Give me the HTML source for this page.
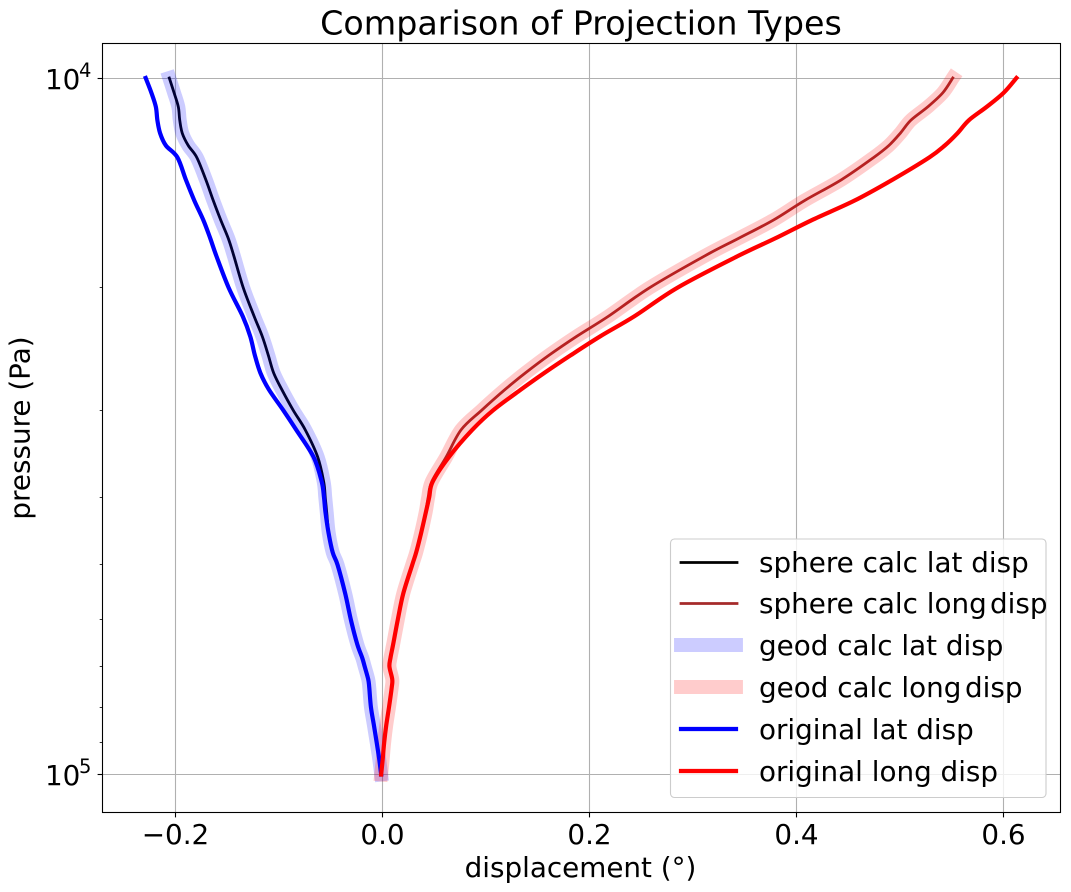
<!DOCTYPE html>
<html lang="en">
<head>
<meta charset="utf-8">
<title>Comparison of Projection Types</title>
<style>
html,body{margin:0;padding:0;background:#fff;}
svg{display:block;}
text{font-family:"DejaVu Sans","Liberation Sans",sans-serif;fill:#000;}
</style>
</head>
<body>
<svg id="chart" xmlns="http://www.w3.org/2000/svg" width="1071" height="892" viewBox="0 0 1071 892">
  <g id="grid"></g>
  <g id="series"></g>
  <rect x="102.5" y="43.5" width="958" height="769" fill="none" stroke="#000" stroke-width="1.1"/>
  <g id="ticks"></g>
  <text x="581" y="34.3" font-size="33.3" text-anchor="middle">Comparison of Projection Types</text>
  <text x="580.5" y="877" font-size="27.8" text-anchor="middle">displacement (°)</text>
  <text transform="translate(29.5,428) rotate(-90)" font-size="27.8" text-anchor="middle">pressure (Pa)</text>
  <g>
    <rect x="670.5" y="539" width="375.5" height="258.5" rx="4" ry="4" fill="#fff" fill-opacity="0.8" stroke="#ccc" stroke-width="1.1"/>
    <g>
      <line x1="681" x2="737" y1="562.5" y2="562.5" stroke="#000" stroke-width="2.8" stroke-linecap="square"/>
      <text x="759" y="572" font-size="27.8">sphere calc lat disp</text>
    </g>
    <g>
      <line x1="681" x2="737" y1="603.5" y2="603.5" stroke="#a52a2a" stroke-width="2.8" stroke-linecap="square"/>
      <text x="759" y="613" font-size="27.8">sphere calc long<tspan x="990">disp</tspan></text>
    </g>
    <g>
      <line x1="681" x2="736" y1="645" y2="645" stroke="#00f" stroke-opacity="0.2" stroke-width="13.9" stroke-linecap="square"/>
      <text x="759" y="655" font-size="27.8">geod calc lat disp</text>
    </g>
    <g>
      <line x1="681" x2="736" y1="687" y2="687" stroke="#f00" stroke-opacity="0.2" stroke-width="13.9" stroke-linecap="square"/>
      <text x="759" y="697" font-size="27.8">geod calc long<tspan x="965">disp</tspan></text>
    </g>
    <g>
      <line x1="681" x2="736" y1="729" y2="729" stroke="#00f" stroke-width="4.2" stroke-linecap="square"/>
      <text x="759" y="739" font-size="27.8">original lat disp</text>
    </g>
    <g>
      <line x1="681" x2="736" y1="771" y2="771" stroke="#f00" stroke-width="4.2" stroke-linecap="square"/>
      <text x="759" y="781" font-size="27.8">original long disp</text>
    </g>
  </g>
</svg>
<script>
const xTickValues = [-0.2, 0, 0.2, 0.4, 0.6];
const xTickLabels = ['\u22120.2', '0.0', '0.2', '0.4', '0.6'];
const yMajorTicks = [10000, 100000];
const yMajorExponents = ['4', '5'];
const yMinorTicks = [20000, 30000, 40000, 50000, 60000, 70000, 80000, 90000];

const pressure = [10000,10500,11000,11500,12000,12500,13000,14000,15000,16000,17000,18000,20000,22000,23500,25000,26500,28000,30000,32000,35000,38000,40000,42000,45000,48000,50000,55000,60000,65000,68000,70000,73000,75000,80000,85000,90000,95000,100000];

const sphereLat = [-0.2056,-0.2010,-0.1969,-0.1955,-0.1931,-0.1873,-0.1791,-0.1703,-0.1631,-0.1559,-0.1486,-0.1433,-0.1342,-0.1236,-0.1158,-0.1100,-0.1049,-0.0970,-0.0859,-0.0743,-0.0623,-0.0565,-0.0550,-0.0536,-0.0516,-0.0478,-0.0431,-0.0357,-0.0302,-0.0241,-0.0193,-0.0169,-0.0135,-0.0125,-0.0109,-0.0080,-0.0053,-0.0029,-0.0010];
const geodLat = [-0.2056,-0.2010,-0.1969,-0.1955,-0.1931,-0.1873,-0.1791,-0.1703,-0.1631,-0.1559,-0.1486,-0.1433,-0.1342,-0.1236,-0.1158,-0.1100,-0.1049,-0.0970,-0.0859,-0.0743,-0.0623,-0.0565,-0.0550,-0.0536,-0.0516,-0.0478,-0.0431,-0.0357,-0.0302,-0.0241,-0.0193,-0.0169,-0.0135,-0.0125,-0.0109,-0.0080,-0.0053,-0.0029,-0.0010];
const originalLat = [-0.2284,-0.2229,-0.2186,-0.2171,-0.2145,-0.2089,-0.1978,-0.1896,-0.1814,-0.1727,-0.1660,-0.1602,-0.1483,-0.1346,-0.1274,-0.1230,-0.1177,-0.1095,-0.0955,-0.0830,-0.0663,-0.0584,-0.0562,-0.0548,-0.0518,-0.0478,-0.0431,-0.0357,-0.0302,-0.0241,-0.0193,-0.0169,-0.0135,-0.0125,-0.0109,-0.0080,-0.0053,-0.0029,-0.0010];
const sphereLong = [0.5510,0.5414,0.5269,0.5105,0.5004,0.4893,0.4748,0.4434,0.4077,0.3776,0.3439,0.3117,0.2583,0.2181,0.1877,0.1612,0.1385,0.1187,0.0960,0.0762,0.0618,0.0478,0.0444,0.0420,0.0376,0.0328,0.0290,0.0203,0.0150,0.0106,0.0080,0.0070,0.0097,0.0092,0.0066,0.0039,0.0019,0.0005,-0.0010];
const geodLong = [0.5510,0.5414,0.5269,0.5105,0.5004,0.4893,0.4748,0.4434,0.4077,0.3776,0.3439,0.3117,0.2583,0.2181,0.1877,0.1612,0.1385,0.1187,0.0960,0.0762,0.0618,0.0478,0.0444,0.0420,0.0376,0.0328,0.0290,0.0203,0.0150,0.0106,0.0080,0.0070,0.0097,0.0092,0.0066,0.0039,0.0019,0.0005,-0.0010];
const originalLong = [0.6125,0.6002,0.5838,0.5665,0.5556,0.5433,0.5284,0.4927,0.4560,0.4148,0.3792,0.3440,0.2852,0.2432,0.2104,0.1822,0.1568,0.1341,0.1071,0.0870,0.0645,0.0487,0.0454,0.0422,0.0376,0.0328,0.0290,0.0203,0.0150,0.0106,0.0080,0.0070,0.0097,0.0092,0.0066,0.0039,0.0019,0.0005,-0.0010];

const NS = 'http://www.w3.org/2000/svg';
const xScale = v => 382.2 + v * 1035.5;
const yScale = p => 78 + 696.5 * (Math.log10(p) - 4);
const snap = v => Math.round(v - 0.5) + 0.5;
const AXIS_LEFT = 102.5, AXIS_RIGHT = 1060.5, AXIS_TOP = 43.5, AXIS_BOTTOM = 812.5;

function makeLine(parent, x1, y1, x2, y2, stroke, width) {
  const el = document.createElementNS(NS, 'line');
  el.setAttribute('x1', x1);
  el.setAttribute('y1', y1);
  el.setAttribute('x2', x2);
  el.setAttribute('y2', y2);
  el.setAttribute('stroke', stroke);
  el.setAttribute('stroke-width', width);
  parent.appendChild(el);
  return el;
}

const gridGroup = document.getElementById('grid');
const tickGroup = document.getElementById('ticks');
const seriesGroup = document.getElementById('series');

xTickValues.forEach((v, i) => {
  const x = snap(xScale(v));
  const gl = makeLine(gridGroup, x, AXIS_TOP, x, AXIS_BOTTOM, '#b0b0b0', 1.1);
  
  
  const tk = makeLine(tickGroup, x, AXIS_BOTTOM, x, AXIS_BOTTOM + 4.9, '#000', 1.1);
  
  
  const label = document.createElementNS(NS, 'text');
  label.setAttribute('x', x);
  label.setAttribute('y', 844);
  label.setAttribute('font-size', '27.8');
  label.setAttribute('text-anchor', 'middle');
  
  
  label.textContent = xTickLabels[i];
  tickGroup.appendChild(label);
});

yMajorTicks.forEach((p, i) => {
  const y = snap(yScale(p));
  const gl = makeLine(gridGroup, AXIS_LEFT, y, AXIS_RIGHT, y, '#b0b0b0', 1.1);
  
  
  const tk = makeLine(tickGroup, AXIS_LEFT - 4.9, y, AXIS_LEFT, y, '#000', 1.1);
  
  
  const base = document.createElementNS(NS, 'text');
  base.setAttribute('x', 45);
  base.setAttribute('y', y + 10.5);
  base.setAttribute('font-size', '27.8');
  
  
  base.textContent = '10';
  tickGroup.appendChild(base);
  const sup = document.createElementNS(NS, 'text');
  sup.setAttribute('x', 79);
  sup.setAttribute('y', y - 1.5);
  sup.setAttribute('font-size', '19.5');
  
  
  sup.textContent = yMajorExponents[i];
  tickGroup.appendChild(sup);
});

yMinorTicks.forEach(p => {
  const y = snap(yScale(p));
  const tk = makeLine(tickGroup, AXIS_LEFT - 2.8, y, AXIS_LEFT, y, '#000', 0.8);
  
  
});

function smoothPath(values) {
  const pts = values.map((v, i) => [xScale(v), yScale(pressure[i])]);
  let d = 'M' + pts[0][0].toFixed(2) + ' ' + pts[0][1].toFixed(2);
  for (let i = 0; i < pts.length - 1; i++) {
    const p0 = pts[Math.max(i - 1, 0)];
    const p1 = pts[i];
    const p2 = pts[i + 1];
    const p3 = pts[Math.min(i + 2, pts.length - 1)];
    const c1x = p1[0] + (p2[0] - p0[0]) / 6;
    const c1y = p1[1] + (p2[1] - p0[1]) / 6;
    const c2x = p2[0] - (p3[0] - p1[0]) / 6;
    const c2y = p2[1] - (p3[1] - p1[1]) / 6;
    d += ' C' + c1x.toFixed(2) + ' ' + c1y.toFixed(2) + ' ' + c2x.toFixed(2) + ' ' + c2y.toFixed(2) + ' ' + p2[0].toFixed(2) + ' ' + p2[1].toFixed(2);
  }
  return d;
}

function drawSeries(values, color, width, opacity, name) {
  const el = document.createElementNS(NS, 'path');
  el.setAttribute('d', smoothPath(values));
  el.setAttribute('fill', 'none');
  el.setAttribute('stroke', color);
  el.setAttribute('stroke-width', width);
  el.setAttribute('stroke-opacity', opacity);
  el.setAttribute('stroke-linejoin', 'round');
  el.setAttribute('stroke-linecap', 'square');
  
  
  seriesGroup.appendChild(el);
}

drawSeries(sphereLat, '#000', 2.8, 1, 'sphere-calc-lat-line');
drawSeries(sphereLong, '#a52a2a', 2.8, 1, 'sphere-calc-long-line');
drawSeries(geodLat, '#00f', 13.9, 0.2, 'geod-calc-lat-line');
drawSeries(geodLong, '#f00', 13.9, 0.2, 'geod-calc-long-line');
drawSeries(originalLat, '#00f', 4.2, 1, 'original-lat-line');
drawSeries(originalLong, '#f00', 4.2, 1, 'original-long-line');
</script>
</body>
</html>
